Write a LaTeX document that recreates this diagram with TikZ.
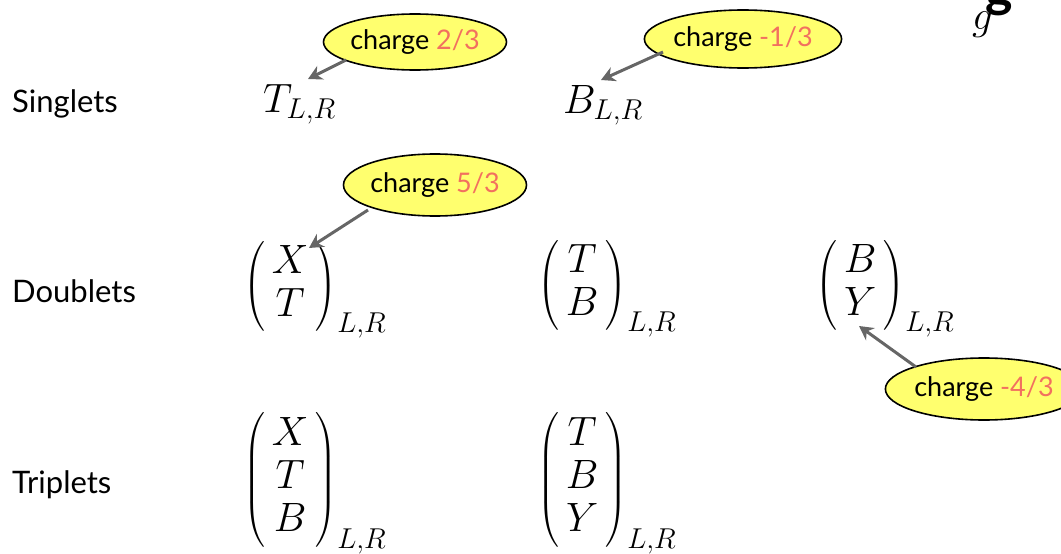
\RequirePackage{fix-cm}
\documentclass[tikz,border=0pt]{standalone}
\usepackage{amsmath}
\usepackage{fontspec}
\newfontfamily\labelfont{Lato}
\usetikzlibrary{shapes.geometric,arrows.meta}
\definecolor{bubble}{HTML}{FFFF6E}
\definecolor{chg}{HTML}{F2705F}
\definecolor{arrowgray}{HTML}{666666}
\newcommand{\vecm}[1]{\left(\begin{array}{c}#1\end{array}\right)_{L,R}}
\tikzset{
  rowlabel/.style={anchor=base west,inner sep=0pt,font=\labelfont\fontsize{31}{36}\selectfont},
  mathbig/.style={inner sep=0pt,font=\fontsize{41}{43}\selectfont\setlength{\arraycolsep}{7pt}},
  bubblebox/.style={ellipse,draw=black,line width=1.6pt,fill=bubble,inner sep=0pt,
     font=\labelfont\fontsize{27}{30}\selectfont},
  pointer/.style={draw=arrowgray,line width=3pt,-{Stealth[length=14pt,width=15pt]}}
}
\begin{document}
\begin{tikzpicture}[x=1pt,y=-1pt]
\useasboundingbox (0,0) rectangle (1061,554);
% row labels
\node[rowlabel] (ls) at (12,112) {Singlets};
\node[rowlabel] (ld) at (12,302) {Doublets};
\node[rowlabel] (lt) at (12,493) {Triplets};
% singlets
\node[mathbig,anchor=base west] (sT) at (263,112) {$T_{L,R}$};
\node[mathbig,anchor=base west] (sB) at (563,113) {$B_{L,R}$};
% doublets
\node[mathbig,anchor=base west] (d1) at (243,297) {$\vecm{X\\T}$};
\node[mathbig,anchor=base west] (d2) at (537,296) {$\vecm{T\\B}$};
\node[mathbig,anchor=base west] (d3) at (815,296) {$\vecm{B\\Y}$};
% triplets
\node[mathbig,anchor=base west] (t1) at (243,490) {$\vecm{X\\T\\B}$};
\node[mathbig,anchor=base west] (t2) at (537,490) {$\vecm{T\\B\\Y}$};
% bubbles
\node[bubblebox,minimum width=153pt,minimum height=56pt] (b1) at (415,42) {charge \textcolor{chg}{2/3}};
\node[bubblebox,minimum width=160pt,minimum height=58pt] (b2) at (743,39) {charge \textcolor{chg}{-1/3}};
\node[bubblebox,minimum width=154pt,minimum height=62pt] (b3) at (435,185) {charge \textcolor{chg}{5/3}};
\node[bubblebox,minimum width=156pt,minimum height=62pt] (b4) at (984,389) {charge \textcolor{chg}{-4/3}};
% pointer targets
\coordinate (p1) at (308,79);
\coordinate (p2) at (601,80);
\coordinate (p3) at (309,248);
\coordinate (p4) at (859,326);
\draw[pointer] (346,60) -- (p1);
\draw[pointer] (663,52) -- (p2);
\draw[pointer] (368,210) -- (p3);
\draw[pointer] (916,367) -- (p4);
% top-right fragments
\node[mathbig,anchor=base west] (gi) at (972,30) {$g$};
\node[anchor=base west,inner sep=0pt,font=\labelfont\bfseries\fontsize{52}{60}\selectfont] (gb) at (985,6) {g};
\end{tikzpicture}
\end{document}
